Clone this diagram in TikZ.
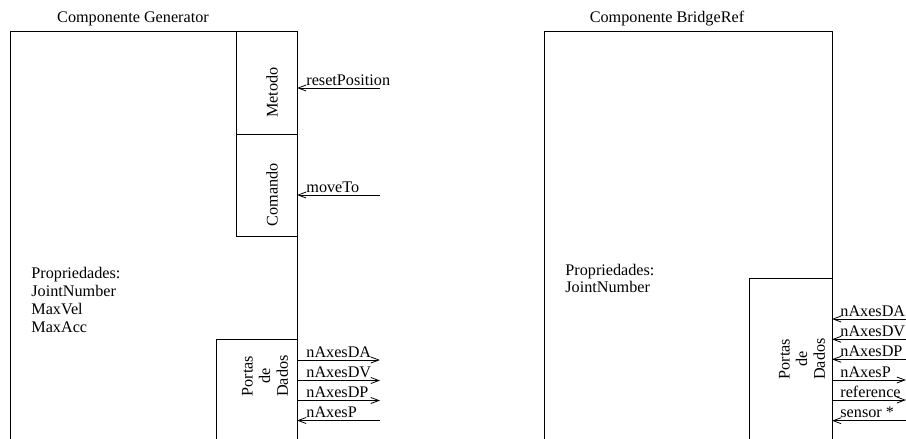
\documentclass[tikz,border=0pt]{standalone}
\usepackage{fontspec}
\setmainfont{Liberation Serif}
\usetikzlibrary{arrows.meta}
\begin{document}
\begin{tikzpicture}[x=1pt,y=-1pt,line width=0.8pt,
  txt/.style={font=\fontsize{16.2}{17.7}\selectfont,inner sep=0pt},
  lbl/.style={txt,anchor=base west},
  title/.style={txt,anchor=base},
  props/.style={txt,anchor=base west,align=left},
  vert/.style={txt,rotate=90,align=center},
  into/.style={-{Straight Barb[length=8pt,width=6pt]}},
]
\useasboundingbox (0,0) rectangle (906,439);
\clip (0,0) rectangle (906,439);

% ---------------- Componente Generator ----------------
\node[title] (tg) at (133,23) {Componente Generator};
\draw (10,460) -- (10,31) -- (297,31) -- (297,460);
\node[draw,minimum width=61pt,minimum height=103pt,inner sep=0pt,anchor=north west] (met) at (236,31) {};
\node[draw,minimum width=61pt,minimum height=102pt,inner sep=0pt,anchor=north west] (com) at (236,134) {};
\node[vert] (metT) at (272,92.5) {Metodo};
\node[vert] (comT) at (272,195) {Comando};
% base anchor of a multi-line node is the last line's baseline
\node[props] (pg) at (31,332) {Propriedades:\\JointNumber\\MaxVel\\MaxAcc};
\draw (216,460) -- (216,339) -- (297,339);
\node[vert] (pdg) at (265,376) {Portas\\de\\Dados};

\coordinate (gm1) at (297,88);  \coordinate (gm1e) at (380,88);
\coordinate (gm2) at (297,195); \coordinate (gm2e) at (380,195);
\draw[into] (gm1e) -- (gm1);
\draw[into] (gm2e) -- (gm2);
\node[lbl] (lg1) at (306,85) {resetPosition};
\node[lbl] (lg2) at (306,192) {moveTo};

\coordinate (gd1) at (297,360);   \coordinate (gd1e) at (380,360);
\coordinate (gd2) at (297,380.5); \coordinate (gd2e) at (380,380.5);
\coordinate (gd3) at (297,400.5); \coordinate (gd3e) at (380,400.5);
\coordinate (gd4) at (297,420.5); \coordinate (gd4e) at (380,420.5);
\draw[into] (gd1) -- (gd1e);
\draw[into] (gd2) -- (gd2e);
\draw[into] (gd3) -- (gd3e);
\draw[into] (gd4e) -- (gd4);
\node[lbl] (ld1) at (306,357) {nAxesDA};
\node[lbl] (ld2) at (306,377.5) {nAxesDV};
\node[lbl] (ld3) at (306,397.5) {nAxesDP};
\node[lbl] (ld4) at (306,417.5) {nAxesP};

% ---------------- Componente BridgeRef ----------------
\node[title] (tb) at (667,23) {Componente BridgeRef};
\draw (544,460) -- (544,31) -- (832,31) -- (832,460);
\node[props] (pb) at (565,292.7) {Propriedades:\\JointNumber};
\draw (749,460) -- (749,278) -- (832,278);
\node[vert] (pdb) at (802,359) {Portas\\de\\Dados};

\coordinate (b1) at (832,319);   \coordinate (b1e) at (906,319);
\coordinate (b2) at (832,339.3); \coordinate (b2e) at (906,339.3);
\coordinate (b3) at (832,359.3); \coordinate (b3e) at (906,359.3);
\coordinate (b4) at (832,380);   \coordinate (b4e) at (906,380);
\coordinate (b5) at (832,400);   \coordinate (b5e) at (906,400);
\coordinate (b6) at (832,420.7); \coordinate (b6e) at (906,420.7);
\draw[into] (b1e) -- (b1);
\draw[into] (b2e) -- (b2);
\draw[into] (b3e) -- (b3);
\draw[into] (b4) -- (b4e);
\draw[into] (b5) -- (b5e);
\draw[into] (b6e) -- (b6);
\node[lbl] (lb1) at (840,316) {nAxesDA};
\node[lbl] (lb2) at (840,336.3) {nAxesDV};
\node[lbl] (lb3) at (840,356.3) {nAxesDP};
\node[lbl] (lb4) at (840,377) {nAxesP};
\node[lbl] (lb5) at (840,397) {reference};
\node[lbl] (lb6) at (840,417.7) {sensor *};
\end{tikzpicture}
\end{document}
